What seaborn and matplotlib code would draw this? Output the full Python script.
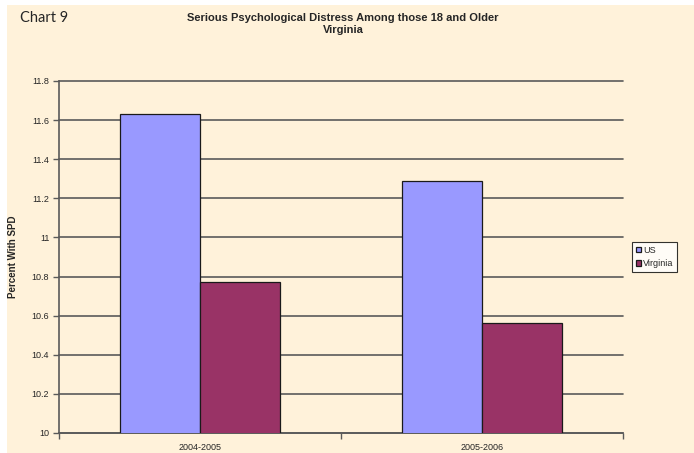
import matplotlib.pyplot as plt
import matplotlib.patches as mpatches
import seaborn as sn
import pandas as pd

years = ['2004-2005', '2005-2006']
us = [11.63, 11.29]
virginia = [10.77, 10.56]
series = ['US', 'Virginia']

df = pd.DataFrame({'period': years * 2,
                   'series': ['US'] * 2 + ['Virginia'] * 2,
                   'value': us + virginia})

cream = '#FFF2DA'
grid_col = '#5A5A5A'

sn.set_style('white')
plt.rcParams['font.family'] = ['Liberation Sans', 'DejaVu Sans']

fig = plt.figure(figsize=(6.94, 4.53), dpi=100)
fig.patch.set_facecolor('white')
fig.patches.append(mpatches.Rectangle((7 / 694, 0), 1, 1 - 5 / 453,
                                      transform=fig.transFigure,
                                      facecolor=cream, edgecolor='none',
                                      zorder=-10))

ax = fig.add_axes([59 / 694, 20 / 453, 564 / 694, 352 / 453])
ax.set_facecolor(cream)

sn.barplot(data=df, x='period', y='value', hue='series',
           palette={'US': '#9999FF', 'Virginia': '#993366'},
           saturation=1, width=0.567, edgecolor='#1A1A1A', linewidth=0.9,
           ax=ax, zorder=3)

ax.set_ylim(10, 11.8)
ax.set_xlim(-0.5, 1.5)
ax.set_yticks([10 + 0.2 * i for i in range(10)])
ax.set_yticklabels(['10', '10.2', '10.4', '10.6', '10.8', '11',
                    '11.2', '11.4', '11.6', '11.8'], fontsize=6.5)
ax.yaxis.grid(True, color=grid_col, linewidth=1.2)
for gl in ax.get_ygridlines():
    gl.set_clip_on(False)
ax.set_axisbelow(True)

# category ticks sit at the group boundaries
ax.set_xticks([-0.5, 0.5, 1.5])
ax.set_xticklabels([])
ax.set_xticks([0, 1], minor=True)
ax.set_xticklabels(years, minor=True, fontsize=6.5)
ax.tick_params(axis='x', which='major', direction='out', length=4,
               color=grid_col, width=1, bottom=True)
ax.tick_params(axis='x', which='minor', length=0, pad=7)
ax.tick_params(axis='y', direction='out', length=4, color=grid_col,
               width=1, left=True, pad=3)

for s in ['top', 'right']:
    ax.spines[s].set_visible(False)
for s in ['left', 'bottom']:
    ax.spines[s].set_color(grid_col)
    ax.spines[s].set_linewidth(1.2)

ax.set_xlabel(None)
ax.set_ylabel('Percent With SPD', fontsize=7, fontweight='bold', labelpad=10)

leg = ax.legend(loc='center left', bbox_to_anchor=(1.008, 0.5),
                fontsize=6.5, frameon=True, fancybox=False,
                handlelength=0.6, handleheight=0.6, handletextpad=0.2,
                borderpad=0.4, labelspacing=0.5)
leg.get_frame().set_edgecolor('black')
leg.get_frame().set_linewidth(0.8)
leg.get_frame().set_facecolor('white')

fig.text(343 / 694, 1 - 24 / 453, 'Serious Psychological Distress Among those 18 and Older\nVirginia',
         ha='center', va='center', fontsize=8, fontweight='bold',
         linespacing=1.2)
fig.text(20 / 694, 1 - 18 / 453, 'Chart 9', ha='left', va='center',
         fontsize=10.5, family=['Lato', 'DejaVu Sans'])

plt.savefig('out.png', dpi=100, facecolor=fig.get_facecolor())
